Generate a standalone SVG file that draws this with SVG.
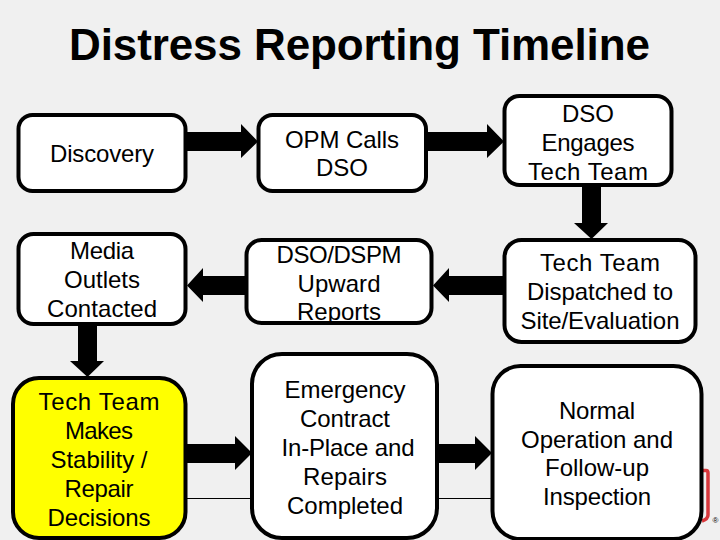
<svg xmlns="http://www.w3.org/2000/svg" width="720" height="540" viewBox="0 0 720 540">
<style>
text{font-family:"Liberation Sans",Arial,sans-serif;fill:#000}
.t{font-size:24px;text-anchor:middle}
.b{fill:#fff;stroke:#000;stroke-width:4}
.a{fill:#000;stroke:none}
.l{stroke:#000;stroke-width:1;fill:none}
</style>
<rect width="720" height="540" fill="#f0f0f0"/>
<text id="title" x="359.500" y="60" font-size="44" font-weight="bold" text-anchor="middle" textLength="581">Distress Reporting Timeline</text>
<g id="brand">
<path d="M702 470.500H706Q708 470.500 708 473V515Q708 519 702 521" fill="none" stroke="#d8383c" stroke-width="3.500"/>
<text x="715.500" y="523" font-size="8" text-anchor="middle">®</text>
</g>
<g id="connectors">
<path class="l" d="M187 498.500H491"/>
<path class="a" d="M187 132H241V124L258 141.500L241 158V151H187Z"/>
<path class="a" d="M428 132H487V124L504 141.500L487 158V151H428Z"/>
<path class="a" d="M245 276H203V268L187 285.500L203 302V295H245Z"/>
<path class="a" d="M503 276H449V268L433 285.500L449 302V295H503Z"/>
<path class="a" d="M582 187V223H574L591.500 239L608 223H601V187Z"/>
<path class="a" d="M78 326V361H70L87.500 377L104 361H97V326Z"/>
<path class="a" d="M187 444H235V436L252 453L235 470V463H187Z"/>
<path class="a" d="M439 444H475V436L492 453L475 470V463H439Z"/>
</g>
<g id="discovery"><rect class="b" x="18.500" y="115" width="167" height="76" rx="14"/><text class="t" x="102" y="162" textLength="104">Discovery</text></g>
<g id="opm-calls"><rect class="b" x="258.500" y="115" width="167.500" height="76" rx="14"/><text class="t" x="342" y="148" textLength="114">OPM Calls</text><text class="t" x="342" y="176" textLength="52">DSO</text></g>
<g id="dso-engages"><rect class="b" x="504.500" y="96" width="167" height="89" rx="15"/><text class="t" x="588" y="122" textLength="52">DSO</text><text class="t" x="588" y="151" textLength="93">Engages</text><text class="t" x="588" y="180" textLength="120">Tech Team</text></g>
<g id="media"><rect class="b" x="18.500" y="234" width="167" height="90" rx="15"/><text class="t" x="102" y="259" textLength="64">Media</text><text class="t" x="102" y="288" textLength="76">Outlets</text><text class="t" x="102" y="317" textLength="110">Contacted</text></g>
<g id="upward"><rect class="b" x="246.500" y="240" width="185" height="83" rx="15"/><text class="t" x="339" y="263" textLength="125">DSO/DSPM</text><text class="t" x="339" y="292" textLength="83">Upward</text><text class="t" x="339" y="320" textLength="84">Reports</text></g>
<g id="dispatched"><rect class="b" x="504.500" y="240" width="191" height="102" rx="17"/><text class="t" x="600" y="271" textLength="120">Tech Team</text><text class="t" x="600" y="300" textLength="146">Dispatched to</text><text class="t" x="600" y="329" textLength="159">Site/Evaluation</text></g>
<g id="stability"><rect class="b" x="13" y="378" width="172.500" height="160" rx="26" style="fill:#ff0"/><text class="t" x="99" y="410" textLength="121">Tech Team</text><text class="t" x="99" y="439" textLength="68">Makes</text><text class="t" x="99" y="468" textLength="97">Stability /</text><text class="t" x="99" y="497" textLength="69">Repair</text><text class="t" x="99" y="526" textLength="103">Decisions</text></g>
<g id="emergency"><rect class="b" x="252" y="354" width="185" height="184" rx="30"/><text class="t" x="345" y="398" textLength="121">Emergency</text><text class="t" x="345" y="427" textLength="90">Contract</text><text class="t" x="348" y="456" textLength="133">In-Place and</text><text class="t" x="345" y="485" textLength="84">Repairs</text><text class="t" x="345" y="514" textLength="116">Completed</text></g>
<g id="normal"><rect class="b" x="492.500" y="366" width="209" height="173" rx="28"/><text class="t" x="597" y="419" textLength="76">Normal</text><text class="t" x="597" y="448" textLength="152">Operation and</text><text class="t" x="597" y="476" textLength="104">Follow-up</text><text class="t" x="597" y="505" textLength="108">Inspection</text></g>
</svg>
